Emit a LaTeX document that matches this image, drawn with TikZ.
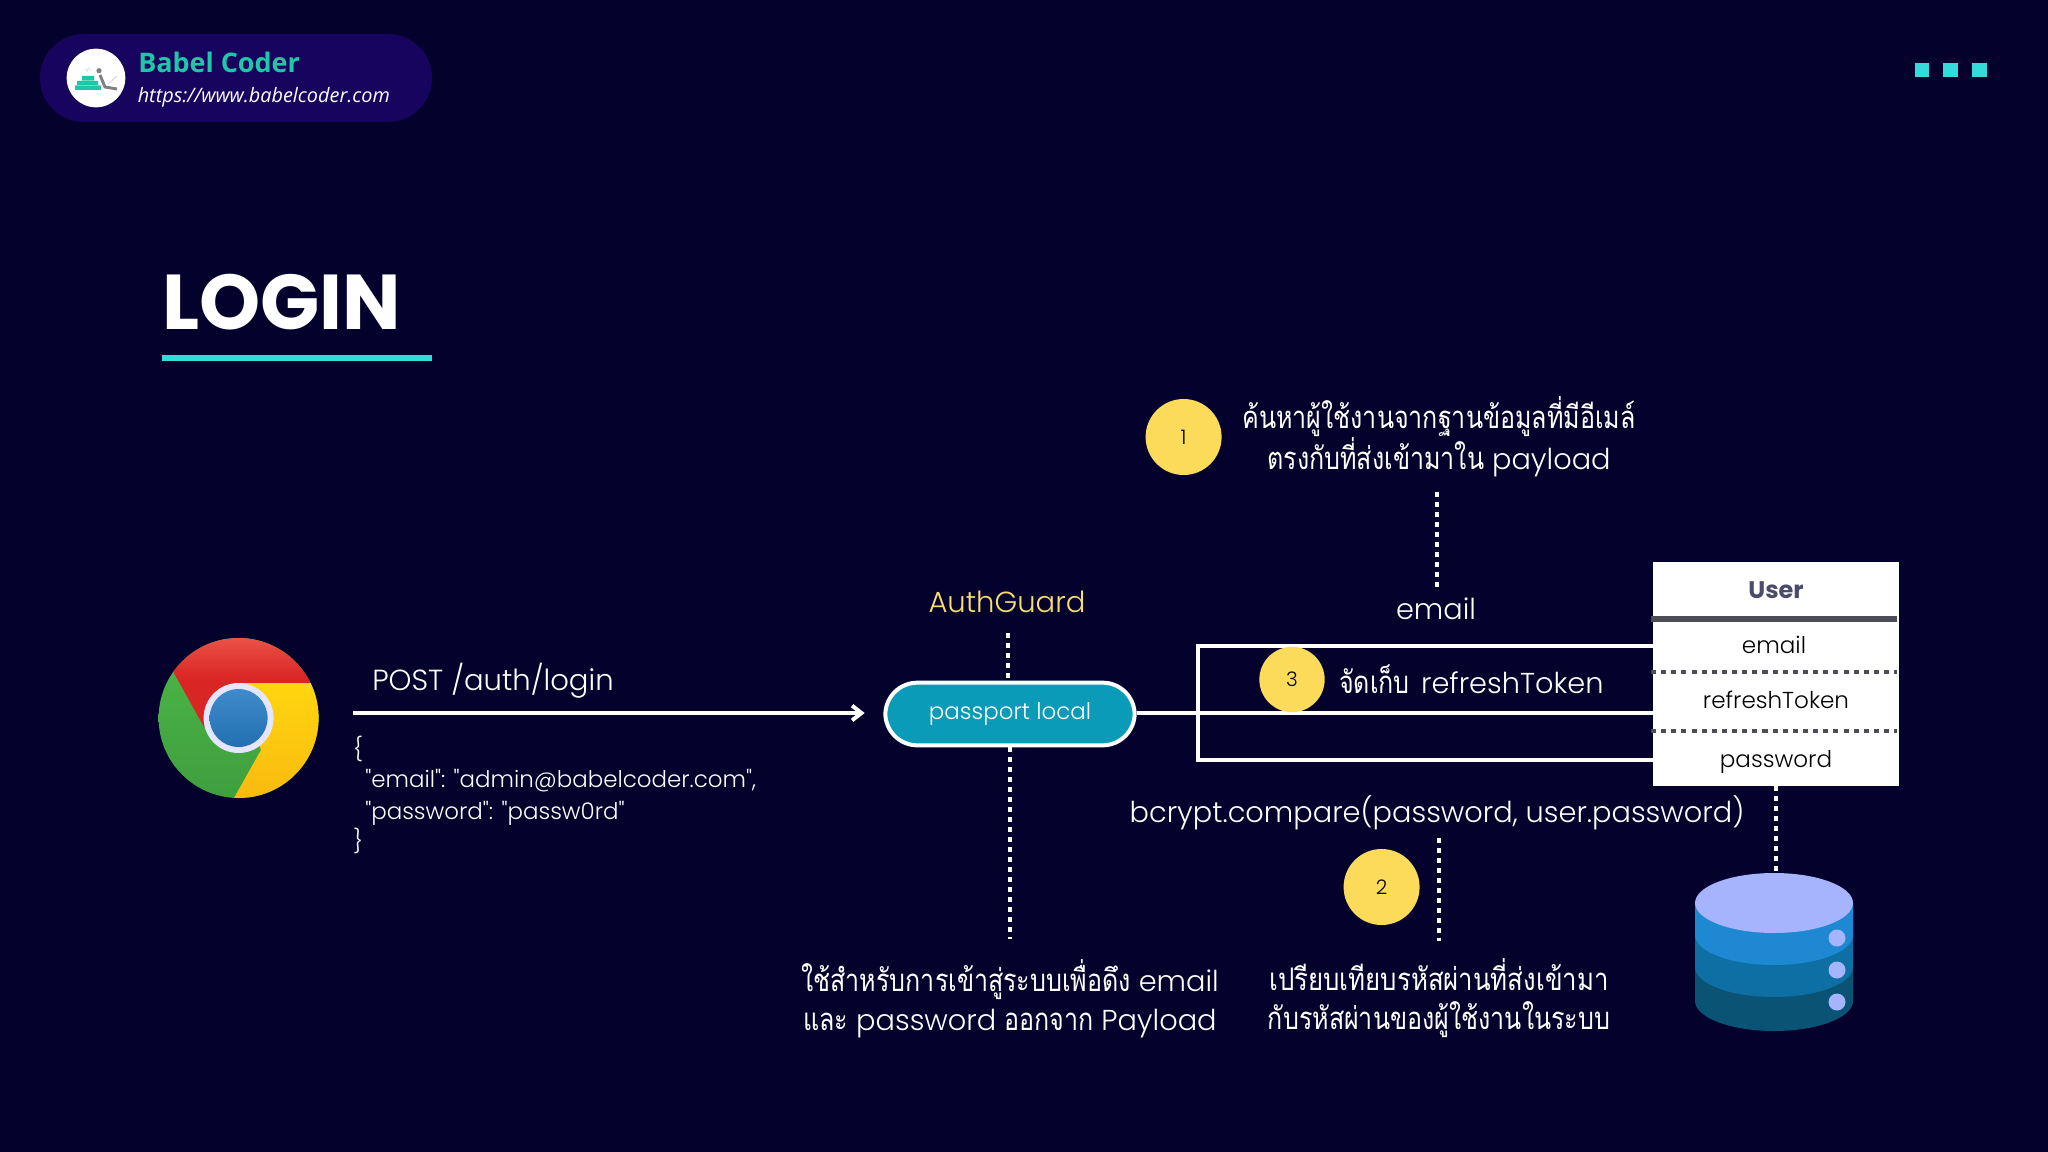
\documentclass[tikz,border=0pt]{standalone}
\usepackage{fontspec}
\usepackage{graphicx}
\setmainfont{Poppins}[UprightFont={* Light},BoldFont={* SemiBold}]
\newfontfamily\thaifont[Script=Thai]{Loma}
\newfontfamily\logofont{Open Sans}
\newfontfamily\titlefont{Poppins}[UprightFont={* Bold}]
\newfontfamily\jsonfont{Poppins}[UprightFont={* Light}]
\newcommand{\tha}[2][.87]{{\thaifont\scalebox{#1}[1.08]{#2}}}
\usetikzlibrary{arrows.meta,calc}
\definecolor{bgc}{HTML}{05012D}
\definecolor{pillbg}{HTML}{16045E}
\definecolor{logoteal}{HTML}{1FC7A8}
\definecolor{accent}{HTML}{35DADA}
\definecolor{sun}{HTML}{FCDB5B}
\definecolor{guardc}{HTML}{F7DE6E}
\definecolor{cyanpill}{HTML}{0A9BB8}
\definecolor{tablegrey}{HTML}{4D4D57}
\definecolor{headtxt}{HTML}{4B4B6B}
\definecolor{dba}{HTML}{0A5375}
\definecolor{dbb}{HTML}{0E6FA5}
\definecolor{dbc}{HTML}{1E88D2}
\definecolor{dbd}{HTML}{A5B4FC}
\definecolor{chgreen}{HTML}{4DB848}
\definecolor{chgreend}{HTML}{3E9E3E}
\definecolor{chredt}{HTML}{EE5A4A}
\definecolor{chred}{HTML}{DA2525}
\definecolor{chyel}{HTML}{FFD60F}
\definecolor{chyeld}{HTML}{F9B80F}
\definecolor{chblue}{HTML}{3F8ACB}
\definecolor{chblued}{HTML}{2270B0}
\tikzset{
  body/.style={text=white,font=\fontsize{21.6pt}{29.25pt}\selectfont,inner sep=0pt,align=center},
  label/.style={text=white,font=\fontsize{21.6pt}{26pt}\selectfont,inner sep=0pt},
  json/.style={text=white,font=\jsonfont\fontsize{17.2pt}{23pt}\selectfont,inner sep=0pt,anchor=base west},
  badge/.style={circle,fill=sun,text=black,inner sep=0pt,minimum size=57pt,font=\fontsize{15pt}{18pt}\selectfont},
  wire/.style={draw=white,line width=3pt},
  dots/.style={draw=white,line width=3pt,dash pattern=on 3.6pt off 3.9pt},
  rowdots/.style={draw=tablegrey,line width=3pt,dash pattern=on 3.8pt off 3.8pt},
  cell/.style={text=black,font=\fontsize{17.3pt}{20pt}\selectfont,inner sep=0pt,anchor=base},
  square/.style={fill=accent,inner sep=0pt,minimum size=11pt,rectangle},
}
\begin{document}
\begin{tikzpicture}[x=.75pt,y=-.75pt]
\useasboundingbox (0,0) rectangle (2048,1152);
\fill[bgc] (0,0) rectangle (2048,1152);
% header pill
\node[rectangle,rounded corners=33pt,fill=pillbg,minimum width=294pt,minimum height=66pt,inner sep=0pt] (header) at (236,78) {};
\node[circle,fill=white,minimum size=44pt,inner sep=0pt] (logo) at (96,78) {};
\fill[logoteal] (75,85.5) rectangle (101,90) (77,81) rectangle (98,85) (82,76) rectangle (94,80.5);
\fill[gray] (99,70.7) circle [radius=2.6];
\draw[gray,line width=2.2pt] (100,75) -- (105,87) -- (117,89);
\draw[gray!50,line width=.4pt] (108,84) -- (117,76);
\node[text=gray,font=\fontsize{3pt}{3pt}\selectfont,inner sep=0pt] (logotag) at (88,70) {</>};
\node[anchor=base west,inner sep=0pt,text=logoteal,font=\logofont\bfseries\fontsize{20.2pt}{24pt}\selectfont] (brand) at (138,73) {Babel Coder};
\node[anchor=base west,inner sep=0pt,text=white,font=\logofont\itshape\fontsize{14.9pt}{18pt}\selectfont] (url) at (137.5,102.5) {https://www.babelcoder.com};
% squares
\node[square] (s1) at (1922,70) {};
\node[square] (s2) at (1950.5,70) {};
\node[square] (s3) at (1979.5,70) {};
% title
\node[anchor=base west,inner sep=0pt,text=white,font=\titlefont\fontsize{58.3pt}{60pt}\selectfont] (title) at (162,329) {LOGIN};
\coordinate (ula) at (162,358);
\coordinate (ulb) at (432,358);
\draw[accent,line width=3.8pt] (ula) -- (ulb);
% chrome
\begin{scope}
\clip (238.6,718) circle [radius=80];
\shade[top color=chgreen,bottom color=chgreend] (158,630) rectangle (320,805);
\shade[top color=chredt,bottom color=chred,middle color=chred] (174,673) -- (160,630) -- (320,630) -- (310,683) -- (239,683) -- (204,727) -- cycle;
\shade[top color=chyel,bottom color=chyeld] (310,683) -- (239,683) -- (261,750) -- (234,798) -- (325,805) -- (325,683) -- cycle;
\end{scope}
\fill[white!90!blue] (238.6,718) circle [radius=35];
\shade[top color=chblue,bottom color=chblued] (238.6,718) circle [radius=29];
% request
\node[anchor=base west,label,font=\fontsize{21.8pt}{26pt}\selectfont] (post) at (372,690) {POST /auth/login};
\coordinate (reqstart) at (353,713);
\node[rectangle,rounded corners=24pt,draw=white,line width=3pt,fill=cyanpill,text=white,minimum width=187pt,minimum height=47pt,inner sep=0pt,font=\fontsize{17.2pt}{20pt}\selectfont] (pill) at (1010,714) {passport local};
\draw[wire,-{Straight Barb[length=7pt,width=11pt]},shorten >=14pt] (reqstart) -- (pill.west |- reqstart);
\node[json] (j1) at (353,757) {\{};
\node[json] (j2) at (365,787.5) {"email": "admin@babelcoder.com",};
\node[json] (j3) at (365,819) {"password": "passw0rd"};
\node[json] (j4) at (353,849) {\}};
% auth guard
\node[anchor=base,text=guardc,font=\fontsize{21.8pt}{26pt}\selectfont,inner sep=0pt] (guard) at (1007,612) {AuthGuard};
\coordinate (guardtop) at (1008,633);
\draw[dots] (guardtop) -- (guardtop |- pill.north);
\coordinate (pilldown) at (1010,939);
\draw[dots] (pill.south) -- (pilldown);
\node[body] (leftnote) at (1010,999) {\tha{ใช้สำหรับการเข้าสู่ระบบเพื่อดึง} email\hspace{3pt}\\ \tha{และ} password \tha{ออกจาก} Payload};
% table
\node[rectangle,fill=white,minimum width=184.5pt,minimum height=168pt,inner sep=0pt] (usertbl) at (1776,674) {};
\coordinate (bracket1) at (1198,646);
\coordinate (bracket2) at (1198,760);
\coordinate (midwire) at (1135,712.5);
\draw[wire] (bracket1 -| usertbl.west) -- (bracket1) -- (bracket2) -- (bracket2 -| usertbl.west);
\draw[wire] (pill.east |- midwire) -- (usertbl.west |- midwire);
\node[anchor=base,inner sep=0pt,text=headtxt,font=\titlefont\fontsize{18pt}{20pt}\selectfont] (uhead) at (1776,598) {User};
\coordinate (line0) at (1651,619);
\coordinate (line0e) at (1897,619);
\draw[draw=tablegrey,line width=3.8pt] (line0) -- (line0e);
\coordinate (line1) at (1651,672);
\coordinate (line1e) at (1897,672);
\draw[rowdots] (line1) -- (line1e);
\coordinate (line2) at (1651,731);
\coordinate (line2e) at (1897,731);
\draw[rowdots] (line2) -- (line2e);
\node[cell] (c1) at (1774,653) {email};
\node[cell] (c2) at (1776,708) {refreshToken};
\node[cell] (c3) at (1776,767) {password};
% step 3
\node[badge,minimum size=49pt] (b3) at (1292,679.5) {3};
\node[anchor=base west,label] (t3) at (1339,693) {\tha{จัดเก็บ}\hspace{2.5pt} refreshToken};
% step 1
\node[badge] (b1) at (1183.6,437) {1};
\node[body] (t1) at (1439,437) {\tha{ค้นหาผู้ใช้งานจากฐานข้อมูลที่มีอีเมล์}\\ \tha{ตรงกับที่ส่งเข้ามาใน} payload};
\node[anchor=base,label] (emaillbl) at (1436,619) {email};
\coordinate (t1a) at (1437,492);
\coordinate (t1b) at (1437,591);
\draw[dots] (t1a) -- (t1b);
% step 2
\node[anchor=base,label] (bcrypt) at (1437,822) {bcrypt.compare(password, user.password)};
\node[badge] (b2) at (1381.6,887) {2};
\coordinate (t2a) at (1439,838);
\coordinate (t2b) at (1439,941);
\draw[dots] (t2a) -- (t2b);
\node[body] (t2) at (1439,998.5) {\tha[.895]{เปรียบเทียบรหัสผ่านที่ส่งเข้ามา}\\ \tha{กับรหัสผ่านของผู้ใช้งานในระบบ}};
% database
\coordinate (dbtop) at (1776,873);
\draw[dots] (usertbl.south -| dbtop) -- (dbtop);
\fill[dba] (1695,903) -- (1695,1001) arc [start angle=180,end angle=0,x radius=79,y radius=30] -- (1853,903) -- cycle;
\fill[dbb] (1695,903) -- (1695,967) arc [start angle=180,end angle=0,x radius=79,y radius=30] -- (1853,903) -- cycle;
\fill[dbc] (1695,903) -- (1695,935) arc [start angle=180,end angle=0,x radius=79,y radius=30] -- (1853,903) -- cycle;
\fill[dbd] (1774,903) ellipse [x radius=79,y radius=30];
\fill[dbd] (1837,938) circle [radius=8.5] (1837,970) circle [radius=8.5] (1837,1002) circle [radius=8.5];
\end{tikzpicture}
\end{document}
